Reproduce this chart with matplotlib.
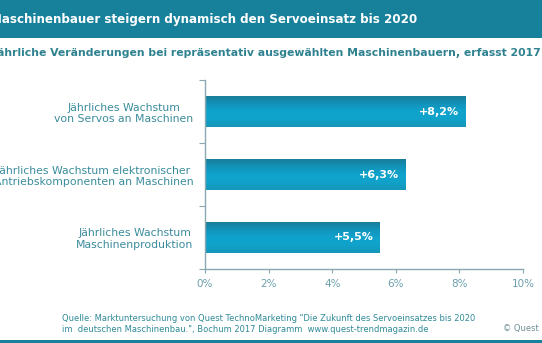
import matplotlib.pyplot as plt
import numpy as np
from matplotlib.patches import Rectangle
from matplotlib.colors import LinearSegmentedColormap

categories = [
    "Jährliches Wachstum\nvon Servos an Maschinen",
    "Jährliches Wachstum elektronischer\nAntriebskomponenten an Maschinen",
    "Jährliches Wachstum\nMaschinenproduktion",
]
values = [8.2, 6.3, 5.5]
value_labels = ["+8,2%", "+6,3%", "+5,5%"]
xticks = [0, 2, 4, 6, 8, 10]
xtick_labels = ["0%", "2%", "4%", "6%", "8%", "10%"]

title = "Maschinenbauer steigern dynamisch den Servoeinsatz bis 2020"
subtitle = "Jährliche Veränderungen bei repräsentativ ausgewählten Maschinenbauern, erfasst 2017"
source = ('Quelle: Marktuntersuchung von Quest TechnoMarketing "Die Zukunft des Servoeinsatzes bis 2020\n'
          'im  deutschen Maschinenbau.", Bochum 2017 Diagramm  www.quest-trendmagazin.de')

W, H = 542, 343
band = "#17819c"
text_teal = "#3a8c9c"
axis_col = "#8aa8b0"

fig = plt.figure(figsize=(W / 100, H / 100), dpi=100)


def fx(px):
    return px / W


def fy(py):
    return 1 - py / H


# title band and bottom strip
fig.patches.append(Rectangle((0, fy(38)), 1, 38 / H, transform=fig.transFigure,
                             facecolor=band, edgecolor="none", zorder=0))
fig.patches.append(Rectangle((0, 0), 1, 3 / H, transform=fig.transFigure,
                             facecolor=band, edgecolor="none", zorder=0))
fig.text(fx(-10), fy(20), title, color="white", fontsize=8.6, fontweight="bold",
         ha="left", va="center")
fig.text(fx(-6), fy(53), subtitle, color="#2e8290", fontsize=7.8, fontweight="bold",
         ha="left", va="center")

ax = fig.add_axes([fx(205), fy(269), fx(523) - fx(205), (269 - 80) / H])
y = np.arange(len(categories))
bars = ax.barh(y, values, height=0.5, color="#109fc8", edgecolor="none")

# vertical gradient inside each bar
cmap = LinearSegmentedColormap.from_list(
    "bar", ["#1b7b96", "#1391b8", "#0fa3cc", "#10a2ca", "#1696ba"])
grad = np.linspace(0, 1, 64).reshape(-1, 1)
for b in bars:
    x0, y0 = b.get_x(), b.get_y()
    w, h = b.get_width(), b.get_height()
    im = ax.imshow(grad, cmap=cmap, aspect="auto", extent=(x0, x0 + w, y0 + h, y0),
                   origin="upper", zorder=2)
    im.set_clip_path(b)

for yi, v, lab in zip(y, values, value_labels):
    ax.text(v - 0.2, yi, lab, color="white", fontsize=8, fontweight="bold",
            ha="right", va="center", zorder=3)

ax.set_xlim(0, 10)
ax.set_ylim(2.5, -0.5)
ax.set_xticks(xticks)
ax.set_xticklabels(xtick_labels, color="#6a9fac", fontsize=7.5)
ax.set_yticks(y)
ax.set_yticklabels(categories, color=text_teal, fontsize=7.8, multialignment="center")
ax.set_yticks([-0.5, 0.5, 1.5, 2.5], minor=True)
ax.tick_params(axis="y", which="major", length=0, pad=8.5)
ax.tick_params(axis="y", which="minor", length=4, color=axis_col, width=0.8)
ax.tick_params(axis="x", length=3, color=axis_col, width=0.8, pad=4)
for s in ["top", "right"]:
    ax.spines[s].set_visible(False)
for s in ["left", "bottom"]:
    ax.spines[s].set_color(axis_col)
    ax.spines[s].set_linewidth(1)

fig.text(fx(62), fy(324), source, color="#2e8a98", fontsize=6.0, ha="left", va="center",
         linespacing=1.35)
fig.text(fx(503), fy(329), "© Quest", color="#6f8f96", fontsize=6, ha="left", va="center")

fig.savefig("out.png", dpi=100)
